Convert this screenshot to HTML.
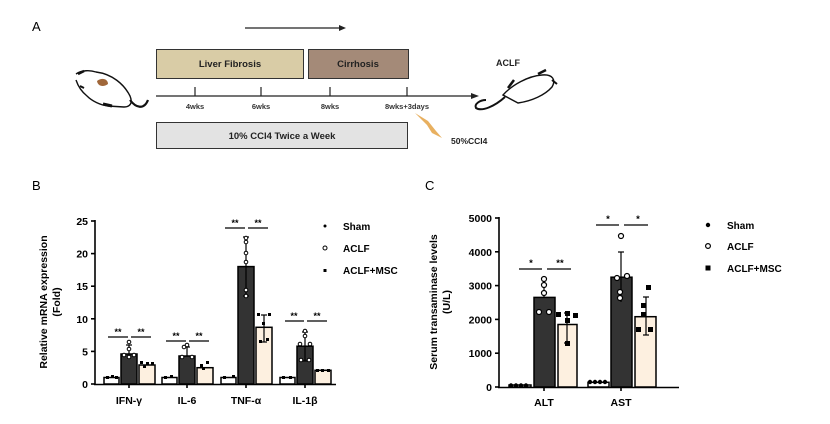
<!DOCTYPE html>
<html><head><meta charset="utf-8"><style>
html,body{margin:0;padding:0;background:#fff;}
svg{display:block;font-family:"Liberation Sans",Arial,sans-serif;}
.b{font-weight:bold;}
</style></head><body>
<svg width="830" height="424" viewBox="0 0 830 424" xmlns="http://www.w3.org/2000/svg">
<!-- Panel A -->
<text x="32" y="31" font-size="13">A</text>
<line x1="245" y1="28" x2="343" y2="28" stroke="#222" stroke-width="1.2"/>
<polygon points="346,28 339,25 339,31" fill="#222"/>
<rect x="156.5" y="49.5" width="147" height="29" fill="#d9cca6" stroke="#333"/>
<text x="230" y="67" font-size="9.5" class="b" text-anchor="middle" fill="#222">Liver Fibrosis</text>
<rect x="308.5" y="49.5" width="100" height="29" fill="#a48a78" stroke="#333"/>
<text x="358" y="67" font-size="9.5" class="b" text-anchor="middle" fill="#222">Cirrhosis</text>
<line x1="156" y1="96" x2="474" y2="96" stroke="#222" stroke-width="1.2"/>
<polygon points="479,96 471,93 471,99" fill="#222"/>
<g stroke="#222" stroke-width="1.2">
<line x1="195" y1="87" x2="195" y2="96"/><line x1="261" y1="87" x2="261" y2="96"/>
<line x1="330" y1="87" x2="330" y2="96"/><line x1="407" y1="87" x2="407" y2="96"/></g>
<g font-size="7.5" class="b" text-anchor="middle" fill="#333">
<text x="195" y="109">4wks</text><text x="261" y="109">6wks</text><text x="330" y="109">8wks</text><text x="407" y="109">8wks+3days</text></g>
<rect x="156.5" y="122.5" width="251" height="26" fill="#e3e3e3" stroke="#333"/>
<text x="282" y="139" font-size="9.5" class="b" text-anchor="middle" fill="#222">10% CCl4 Twice a Week</text>
<path d="M415,113 L427,125 L432,133 L442,138 L436,131 L428,121 Z" fill="#e8b060"/>
<text x="451" y="144" font-size="8.5" class="b" fill="#222">50%CCl4</text>
<text x="496" y="66" font-size="9" class="b" fill="#222">ACLF</text>
<!-- left rat -->
<g fill="none" stroke="#111" stroke-width="1.4">
<path d="M76,74 C82,70 90,70 96,72 C112,74 124,84 130,96 C133,103 130,107 124,107 L108,106 C100,105 92,101 87,96 C82,92 78,86 76,80"/>
<path d="M130,100 C136,108 144,110 148,100" stroke-width="2.2"/>
<path d="M103,104 L112,106" stroke-width="3"/>
<path d="M78,74 L84,71" stroke-width="2.5"/>
<path d="M80,86 L84,88" stroke-width="2"/>
</g>
<path d="M97,81 C102,77 108,79 108,84 C104,87 98,87 97,81Z" fill="#a0673a"/>
<!-- right rat -->
<g fill="none" stroke="#111" stroke-width="1.4">
<path d="M503,95 C512,85 528,76 542,75 C553,74 556,80 552,87 C545,95 532,101 518,103 Z"/>
<path d="M505,97 C495,106 482,112 476,108 C474,104 480,100 486,100" stroke-width="2"/>
<path d="M508,88 L514,80" stroke-width="2.5"/>
<path d="M538,74 L546,70" stroke-width="2.5"/>
<path d="M552,80 L557,84" stroke-width="2"/>
</g>

<!-- Panel B -->
<text x="32" y="190" font-size="13">B</text>
<g stroke="#000" stroke-width="1.6" fill="none">
<line x1="95" y1="220" x2="95" y2="385"/>
<line x1="94" y1="384.5" x2="336" y2="384.5"/>
<line x1="91" y1="221" x2="95" y2="221"/><line x1="91" y1="253.6" x2="95" y2="253.6"/>
<line x1="91" y1="286.2" x2="95" y2="286.2"/><line x1="91" y1="318.8" x2="95" y2="318.8"/>
<line x1="91" y1="351.4" x2="95" y2="351.4"/><line x1="91" y1="384" x2="95" y2="384"/>
<line x1="129" y1="384" x2="129" y2="388"/><line x1="187" y1="384" x2="187" y2="388"/>
<line x1="246" y1="384" x2="246" y2="388"/><line x1="305" y1="384" x2="305" y2="388"/>
</g>
<g font-size="10.5" class="b" text-anchor="end">
<text x="88" y="225">25</text><text x="88" y="257.6">20</text><text x="88" y="290.2">15</text>
<text x="88" y="322.8">10</text><text x="88" y="355.4">5</text><text x="88" y="388">0</text></g>
<text transform="translate(47,302) rotate(-90)" font-size="10.5" class="b" text-anchor="middle">Relative mRNA expression</text>
<text transform="translate(60,302) rotate(-90)" font-size="10.5" class="b" text-anchor="middle">(Fold)</text>
<g font-size="10.5" class="b" text-anchor="middle">
<text x="129" y="404">IFN-γ</text><text x="187" y="404">IL-6</text><text x="246" y="404">TNF-α</text><text x="305" y="404">IL-1β</text></g>
<g stroke="#000" stroke-width="1.5">
<rect x="104" y="377.5" width="15" height="6.5" fill="#fff"/>
<rect x="121" y="354" width="16" height="30" fill="#333"/>
<rect x="139" y="365" width="16" height="19" fill="#fdf0e0"/>
<rect x="162" y="377.5" width="15" height="6.5" fill="#fff"/>
<rect x="179" y="356" width="16" height="28" fill="#333"/>
<rect x="197" y="367.7" width="16" height="16.3" fill="#fdf0e0"/>
<rect x="221" y="377.5" width="15" height="6.5" fill="#fff"/>
<rect x="238" y="266.6" width="16" height="117.4" fill="#333"/>
<rect x="256" y="327.3" width="16" height="56.7" fill="#fdf0e0"/>
<rect x="280" y="377.5" width="15" height="6.5" fill="#fff"/>
<rect x="297" y="346.2" width="16" height="37.8" fill="#333"/>
<rect x="315" y="370.3" width="16" height="13.7" fill="#fdf0e0"/>
</g>
<g stroke="#000" stroke-width="1.2">
<line x1="129" y1="345" x2="129" y2="354"/><line x1="126" y1="345" x2="132" y2="345"/>
<line x1="187" y1="347" x2="187" y2="356"/><line x1="184" y1="347" x2="190" y2="347"/>
<line x1="246" y1="237" x2="246" y2="296"/><line x1="243" y1="237" x2="249" y2="237"/><line x1="243" y1="296" x2="249" y2="296"/>
<line x1="264" y1="315" x2="264" y2="342"/><line x1="261" y1="315" x2="267" y2="315"/><line x1="261" y1="342" x2="267" y2="342"/>
<line x1="305" y1="332" x2="305" y2="361"/><line x1="302" y1="332" x2="308" y2="332"/><line x1="302" y1="361" x2="308" y2="361"/>
</g>
<g fill="#fff" stroke="#000" stroke-width="1">
<circle cx="129" cy="342" r="1.8"/><circle cx="129" cy="349" r="1.8"/><circle cx="124" cy="355" r="1.8"/><circle cx="134" cy="355" r="1.8"/><circle cx="129" cy="357" r="1.8"/>
<circle cx="187" cy="345" r="1.8"/><circle cx="184" cy="347" r="1.8"/><circle cx="182" cy="357" r="1.8"/><circle cx="192" cy="357" r="1.8"/>
<circle cx="246" cy="238" r="1.8"/><circle cx="246" cy="242" r="1.8"/><circle cx="246" cy="253" r="1.8"/><circle cx="246" cy="262" r="1.8"/><circle cx="246" cy="290" r="1.8"/><circle cx="246" cy="296" r="1.8"/>
<circle cx="305" cy="331" r="1.8"/><circle cx="305" cy="336" r="1.8"/><circle cx="300" cy="344" r="1.8"/><circle cx="310" cy="344" r="1.8"/><circle cx="301" cy="360" r="1.8"/><circle cx="309" cy="360" r="1.8"/>
</g>
<g fill="#000">
<rect x="140" y="361" width="3" height="3"/><rect x="146" y="362" width="3" height="3"/><rect x="151" y="362" width="3" height="3"/><rect x="143" y="365" width="3" height="3"/>
<rect x="200" y="364" width="3" height="3"/><rect x="206" y="361" width="3" height="3"/><rect x="202" y="367" width="3" height="3"/>
<rect x="257" y="313" width="3" height="3"/><rect x="268" y="313" width="3" height="3"/><rect x="262" y="322" width="3" height="3"/><rect x="259" y="340" width="3" height="3"/><rect x="266" y="338" width="3" height="3"/>
<rect x="316" y="369" width="3" height="3"/><rect x="321" y="369" width="3" height="3"/><rect x="327" y="369" width="3" height="3"/>
<rect x="106" y="376" width="3" height="3"/><rect x="111" y="375" width="3" height="3"/><rect x="115" y="376" width="3" height="3"/>
<rect x="164" y="376" width="3" height="3"/><rect x="170" y="375" width="3" height="3"/>
<rect x="223" y="376" width="3" height="3"/><rect x="232" y="375" width="3" height="3"/>
<rect x="282" y="376" width="3" height="3"/><rect x="289" y="376" width="3" height="3"/>
</g>
<g stroke="#000" stroke-width="1.3">
<line x1="108" y1="337" x2="128" y2="337"/><line x1="131" y1="337" x2="151" y2="337"/>
<line x1="166" y1="341" x2="186" y2="341"/><line x1="189" y1="341" x2="209" y2="341"/>
<line x1="225" y1="228" x2="245" y2="228"/><line x1="248" y1="228" x2="268" y2="228"/>
<line x1="285" y1="321" x2="304" y2="321"/><line x1="307" y1="321" x2="327" y2="321"/>
</g>
<g font-size="9" class="b" text-anchor="middle">
<text x="118" y="335">**</text><text x="141" y="335">**</text>
<text x="176" y="339">**</text><text x="199" y="339">**</text>
<text x="235" y="226">**</text><text x="258" y="226">**</text>
<text x="294" y="319">**</text><text x="317" y="319">**</text></g>
<circle cx="325" cy="226" r="1.5" fill="#000"/>
<circle cx="325" cy="248" r="2" fill="#fff" stroke="#000"/>
<rect x="323.5" y="269" width="3" height="3" fill="#000"/>
<g font-size="10" class="b"><text x="343" y="230">Sham</text><text x="343" y="252">ACLF</text><text x="343" y="274">ACLF+MSC</text></g>

<!-- Panel C -->
<text x="425" y="190" font-size="13">C</text>
<g stroke="#000" stroke-width="1.6" fill="none">
<line x1="499" y1="217" x2="499" y2="388"/>
<line x1="498" y1="387.5" x2="679" y2="387.5"/>
<line x1="495" y1="218" x2="499" y2="218"/><line x1="495" y1="251.8" x2="499" y2="251.8"/>
<line x1="495" y1="285.6" x2="499" y2="285.6"/><line x1="495" y1="319.4" x2="499" y2="319.4"/>
<line x1="495" y1="353.2" x2="499" y2="353.2"/><line x1="495" y1="387" x2="499" y2="387"/>
<line x1="544" y1="387" x2="544" y2="391"/><line x1="621" y1="387" x2="621" y2="391"/>
</g>
<g font-size="10.5" class="b" text-anchor="end">
<text x="492" y="222">5000</text><text x="492" y="255.8">4000</text><text x="492" y="289.6">3000</text>
<text x="492" y="323.4">2000</text><text x="492" y="357.2">1000</text><text x="492" y="391">0</text></g>
<text transform="translate(437,302) rotate(-90)" font-size="10.5" class="b" text-anchor="middle">Serum transaminase levels</text>
<text transform="translate(450,302) rotate(-90)" font-size="10.5" class="b" text-anchor="middle">(U/L)</text>
<g font-size="10.5" class="b" text-anchor="middle"><text x="544" y="406">ALT</text><text x="621" y="406">AST</text></g>
<g stroke="#000" stroke-width="1.5">
<rect x="509" y="385" width="22" height="2" fill="#fff"/>
<rect x="534" y="297.4" width="21" height="89.6" fill="#333"/>
<rect x="558" y="324.5" width="19" height="62.5" fill="#fdf0e0"/>
<rect x="588" y="382.3" width="21" height="4.7" fill="#fff"/>
<rect x="611" y="277.2" width="21" height="109.8" fill="#333"/>
<rect x="635" y="316.7" width="21" height="70.3" fill="#fdf0e0"/>
</g>
<g stroke="#000" stroke-width="1.2">
<line x1="544" y1="279" x2="544" y2="297"/><line x1="541" y1="279" x2="547" y2="279"/>
<line x1="567" y1="313" x2="567" y2="343"/><line x1="564" y1="313" x2="570" y2="313"/><line x1="564" y1="343" x2="570" y2="343"/>
<line x1="621" y1="252" x2="621" y2="302"/><line x1="618" y1="252" x2="624" y2="252"/>
<line x1="646" y1="297" x2="646" y2="335"/><line x1="643" y1="297" x2="649" y2="297"/><line x1="643" y1="335" x2="649" y2="335"/>
</g>
<g fill="#fff" stroke="#000" stroke-width="1.2">
<circle cx="544" cy="279" r="2.5"/><circle cx="544" cy="285" r="2.5"/><circle cx="544" cy="293" r="2.5"/><circle cx="539" cy="312" r="2.5"/><circle cx="549" cy="312" r="2.5"/>
<circle cx="621" cy="236" r="2.5"/><circle cx="617" cy="278" r="2.5"/><circle cx="627" cy="276" r="2.5"/><circle cx="620" cy="292" r="2.5"/><circle cx="620" cy="298" r="2.5"/>
</g>
<g fill="#000">
<circle cx="511" cy="385.5" r="2.2"/><circle cx="516" cy="385.5" r="2.2"/><circle cx="521" cy="385.5" r="2.2"/><circle cx="526" cy="385.5" r="2.2"/>
<circle cx="590" cy="382" r="2.2"/><circle cx="595" cy="382" r="2.2"/><circle cx="600" cy="382" r="2.2"/><circle cx="605" cy="382" r="2.2"/>
<rect x="556" y="312" width="5" height="5"/><rect x="565" y="311" width="5" height="5"/><rect x="573" y="313" width="5" height="5"/><rect x="565" y="318" width="5" height="5"/><rect x="565" y="341" width="5" height="5"/>
<rect x="646" y="285" width="5" height="5"/><rect x="641" y="303" width="5" height="5"/><rect x="641" y="312" width="5" height="5"/><rect x="636" y="327" width="5" height="5"/><rect x="648" y="327" width="5" height="5"/>
</g>
<g stroke="#000" stroke-width="1.3">
<line x1="519" y1="269" x2="542" y2="269"/><line x1="547" y1="269" x2="571" y2="269"/>
<line x1="596" y1="225" x2="619" y2="225"/><line x1="624" y1="225" x2="648" y2="225"/>
</g>
<g font-size="9.5" class="b" text-anchor="middle">
<text x="531" y="266">*</text><text x="560" y="266">**</text>
<text x="608" y="222">*</text><text x="638" y="222">*</text></g>
<circle cx="708" cy="225" r="2.2" fill="#000"/>
<circle cx="708" cy="246" r="2.4" fill="#fff" stroke="#000" stroke-width="1.2"/>
<rect x="705.5" y="265.5" width="5" height="5" fill="#000"/>
<g font-size="10" class="b"><text x="727" y="229">Sham</text><text x="727" y="250">ACLF</text><text x="727" y="272">ACLF+MSC</text></g>
</svg>
</body></html>
